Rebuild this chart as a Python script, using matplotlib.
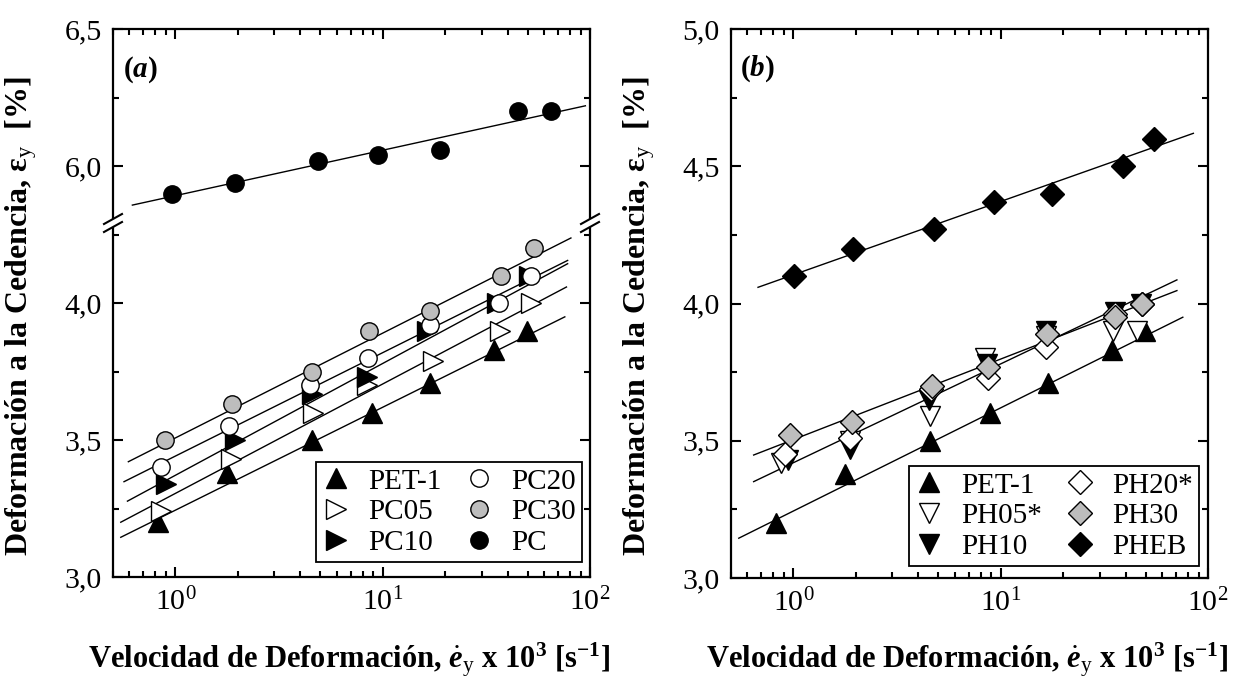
import numpy as np
import matplotlib
matplotlib.use("Agg")
import matplotlib.pyplot as plt
from matplotlib.lines import Line2D
from matplotlib.patches import Polygon
from matplotlib.ticker import FixedLocator, LogLocator, FuncFormatter, NullFormatter

plt.rcParams['font.family'] = ['Liberation Serif', 'DejaVu Serif']
plt.rcParams['mathtext.fontset'] = 'custom'
plt.rcParams['mathtext.rm'] = 'Liberation Serif'
plt.rcParams['mathtext.it'] = 'Liberation Serif:italic'
plt.rcParams['mathtext.bf'] = 'Liberation Serif:bold'
plt.rcParams['mathtext.bfit'] = 'Liberation Serif:italic:bold'

# ---- data, panel (a) ----
pet_x = [0.82, 1.78, 4.57, 8.87, 17.0, 34.6, 49.6]
pet_y = [3.20, 3.38, 3.50, 3.60, 3.71, 3.83, 3.90]
pc05_x = [0.85, 1.86, 4.59, 8.39, 17.4, 36.6, 52.1]
pc05_y = [3.24, 3.43, 3.60, 3.70, 3.79, 3.90, 4.00]
pc10_x = [0.90, 1.93, 4.57, 8.40, 16.4, 35.6, 51.0]
pc10_y = [3.34, 3.50, 3.67, 3.73, 3.90, 4.00, 4.10]
pc20_x = [0.855, 1.82, 4.46, 8.49, 16.9, 36.2, 51.7]
pc20_y = [3.40, 3.55, 3.70, 3.80, 3.92, 4.00, 4.10]
pc30_x = [0.887, 1.88, 4.57, 8.62, 17.0, 37.3, 53.5]
pc30_y = [3.50, 3.63, 3.75, 3.90, 3.97, 4.10, 4.20]
pc_x = [0.96, 1.94, 4.87, 9.46, 18.8, 45.0, 65.0]
pc_y = [5.90, 5.94, 6.02, 6.04, 6.06, 6.20, 6.20]

# fitted lines (end points)
pet_fit_x, pet_fit_y = [0.545, 75.6], [3.145, 3.95]
pc05_fit_x, pc05_fit_y = [0.545, 77.0], [3.200, 4.059]
pc10_fit_x, pc10_fit_y = [0.587, 78.0], [3.277, 4.144]
pc20_fit_x, pc20_fit_y = [0.565, 78.0], [3.348, 4.156]
pc30_fit_x, pc30_fit_y = [0.593, 80.9], [3.421, 4.238]
pc_fit_x, pc_fit_y = [0.62, 95.0], [5.858, 6.22]

# ---- data, panel (b) ----
ph05_x = [0.875, 1.87, 4.56, 8.41, 16.5, 35.0, 45.4]
ph05_y = [3.42, 3.50, 3.59, 3.80, 3.88, 3.90, 3.90]
ph10_x = [0.946, 1.88, 4.52, 8.60, 16.5, 35.4, 47.6]
ph10_y = [3.43, 3.47, 3.65, 3.78, 3.90, 3.97, 4.00]
ph20_x = [0.91, 1.87, 4.60, 8.72, 16.5, 35.7, 48.0]
ph20_y = [3.45, 3.51, 3.69, 3.73, 3.84, 3.96, 4.00]
ph30_x = [0.96, 1.91, 4.64, 8.72, 16.7, 35.7, 48.0]
ph30_y = [3.52, 3.57, 3.70, 3.77, 3.89, 3.95, 4.00]
pheb_x = [1.01, 1.93, 4.76, 9.32, 17.6, 38.7, 54.7]
pheb_y = [4.10, 4.20, 4.27, 4.37, 4.40, 4.50, 4.60]

ph10_fit_x, ph10_fit_y = [0.643, 70.8], [3.351, 4.086]
ph30_fit_x, ph30_fit_y = [0.643, 70.8], [3.448, 4.047]
pheb_fit_x, pheb_fit_y = [0.675, 85.0], [4.059, 4.62]

GRAY = '#bdbdbd'
W, H = 1235, 685
MS_T = 14    # triangles
MS_C = 12.5  # circles
MS_D = 12.5  # diamonds

fig = plt.figure(figsize=(W / 100, H / 100), dpi=100)
ax_top = fig.add_axes([113 / W, (H - 221) / H, 477 / W, 192 / H])
ax_low = fig.add_axes([113 / W, (H - 577) / H, 477 / W, 356 / H])
ax_b = fig.add_axes([731 / W, (H - 578) / H, 477 / W, 549 / H])

comma = FuncFormatter(lambda v, p: f"{v:.1f}".replace('.', ','))


def style(ax, top=True, bottom=True):
    ax.set_xscale('log')
    ax.set_xlim(0.5, 100)
    for s in ax.spines.values():
        s.set_linewidth(1.6)
    ax.xaxis.set_major_locator(LogLocator(base=10, numticks=10))
    ax.xaxis.set_minor_locator(LogLocator(base=10, subs=np.arange(2, 10), numticks=10))
    ax.xaxis.set_minor_formatter(NullFormatter())
    ax.tick_params(which='both', direction='in', top=top, bottom=bottom,
                   left=True, right=True, width=1.5, labelsize=21.5,
                   labelbottom=bottom, pad=8)
    ax.tick_params(which='major', length=7)
    ax.tick_params(which='minor', length=4)
    ax.yaxis.set_major_formatter(comma)


def marks(ax, x, y, m, fc, label, ms):
    ax.plot(x, y, linestyle='none', marker=m, ms=ms, mfc=fc, mec='black',
            mew=1.0, label=label, zorder=3)


def fit(ax, x, y):
    ax.plot(x, y, color='black', lw=1.0, zorder=2)


# ---- panel (a) ----
style(ax_top, top=True, bottom=False)
style(ax_low, top=False, bottom=True)
ax_top.spines['bottom'].set_visible(False)
ax_low.spines['top'].set_visible(False)
ax_top.set_ylim(5.8, 6.5)
ax_low.set_ylim(3.0, 4.3)
ax_top.yaxis.set_major_locator(FixedLocator([6.0, 6.5]))
ax_top.yaxis.set_minor_locator(FixedLocator([6.25]))
ax_low.yaxis.set_major_locator(FixedLocator([3.0, 3.5, 4.0]))
ax_low.yaxis.set_minor_locator(FixedLocator([3.25, 3.75, 4.25]))

for fx, fy in [(pet_fit_x, pet_fit_y), (pc05_fit_x, pc05_fit_y),
               (pc10_fit_x, pc10_fit_y), (pc20_fit_x, pc20_fit_y),
               (pc30_fit_x, pc30_fit_y)]:
    fit(ax_low, fx, fy)
fit(ax_top, pc_fit_x, pc_fit_y)

marks(ax_low, pet_x, pet_y, '^', 'black', 'PET-1', MS_T)
marks(ax_low, pc05_x, pc05_y, '>', 'white', 'PC05', MS_T)
marks(ax_low, pc10_x, pc10_y, '>', 'black', 'PC10', MS_T)
marks(ax_low, pc20_x, pc20_y, 'o', 'white', 'PC20', MS_C)
marks(ax_low, pc30_x, pc30_y, 'o', GRAY, 'PC30', MS_C)
marks(ax_top, pc_x, pc_y, 'o', 'black', 'PC', MS_C)

handles_a = [
    Line2D([], [], ls='none', marker='^', ms=MS_T, mfc='black', mec='black'),
    Line2D([], [], ls='none', marker='>', ms=MS_T, mfc='white', mec='black'),
    Line2D([], [], ls='none', marker='>', ms=MS_T, mfc='black', mec='black'),
    Line2D([], [], ls='none', marker='o', ms=MS_C, mfc='white', mec='black'),
    Line2D([], [], ls='none', marker='o', ms=MS_C, mfc=GRAY, mec='black'),
    Line2D([], [], ls='none', marker='o', ms=MS_C, mfc='black', mec='black'),
]
labels_a = ['PET-1', 'PC05', 'PC10', 'PC20', 'PC30', 'PC']

# break marks on both spines of panel (a)
yb = H - 223
for xs in (113, 590):
    dx, dy, gap = 9, 5, 4
    poly = Polygon([((xs - dx) / W, (yb - dy - gap) / H), ((xs + dx) / W, (yb + dy - gap) / H),
                    ((xs + dx) / W, (yb + dy + gap) / H), ((xs - dx) / W, (yb - dy + gap) / H)],
                   closed=True, facecolor='white', edgecolor='none',
                   transform=fig.transFigure, zorder=10)
    fig.add_artist(poly)
    for g in (-gap, gap):
        fig.add_artist(Line2D([(xs - dx) / W, (xs + dx) / W],
                              [(yb - dy + g) / H, (yb + dy + g) / H],
                              color='black', lw=1.5, transform=fig.transFigure, zorder=11))

leg = ax_low.legend(handles_a, labels_a, ncol=2, loc='lower right',
                    bbox_to_anchor=(0.983, 0.042), borderaxespad=0,
                    fontsize=21, handlelength=1.0, handletextpad=0.6,
                    columnspacing=0.8, labelspacing=0.15, borderpad=0.2,
                    fancybox=False, framealpha=1, edgecolor='black')
leg.get_frame().set_linewidth(1.3)

ax_top.text(0.02, 0.87, r"($\mathbfit{a}$)", transform=ax_top.transAxes,
            fontsize=21, fontweight='bold', va='top', ha='left')

# ---- panel (b) ----
style(ax_b)
ax_b.set_ylim(3.0, 5.0)
ax_b.yaxis.set_major_locator(FixedLocator([3.0, 3.5, 4.0, 4.5, 5.0]))
ax_b.yaxis.set_minor_locator(FixedLocator([3.25, 3.75, 4.25, 4.75]))

for fx, fy in [(pet_fit_x, pet_fit_y), (ph10_fit_x, ph10_fit_y),
               (ph30_fit_x, ph30_fit_y), (pheb_fit_x, pheb_fit_y)]:
    fit(ax_b, fx, fy)

marks(ax_b, pet_x, pet_y, '^', 'black', 'PET-1', MS_T)
marks(ax_b, ph05_x, ph05_y, 'v', 'white', 'PH05*', MS_T)
marks(ax_b, ph10_x, ph10_y, 'v', 'black', 'PH10', MS_T)
marks(ax_b, ph20_x, ph20_y, 'D', 'white', 'PH20*', MS_D)
marks(ax_b, ph30_x, ph30_y, 'D', GRAY, 'PH30', MS_D)
marks(ax_b, pheb_x, pheb_y, 'D', 'black', 'PHEB', MS_D)

leg_b = ax_b.legend(ncol=2, loc='lower right', bbox_to_anchor=(0.981, 0.022),
                    borderaxespad=0, fontsize=21, handlelength=1.0,
                    handletextpad=0.6, columnspacing=0.8, labelspacing=0.15,
                    borderpad=0.2, fancybox=False, framealpha=1, edgecolor='black')
leg_b.get_frame().set_linewidth(1.3)

ax_b.text(0.019, 0.955, r"($\mathbfit{b}$)", transform=ax_b.transAxes,
          fontsize=21, fontweight='bold', va='top', ha='left')

# ---- axis labels ----
ylab = r"Deformación a la Cedencia, ε$_{\mathrm{y}}$  [%]"
xlab = r"Velocidad de Deformación, $\dot{\mathbfit{e}}_{\mathrm{y}}$ x 10$^{\mathbf{3}}$ [s$^{\mathbf{-1}}$]"
for x0 in (113, 731):
    fig.text((x0 - 92) / W, (H - 316) / H, ylab, rotation=90, ha='center',
             va='center', fontsize=23, fontweight='bold')
    fig.text((x0 + 236) / W, (H - 660) / H, xlab, ha='center', va='center',
             fontsize=22, fontweight='bold')

fig.savefig('out.png', dpi=100)
